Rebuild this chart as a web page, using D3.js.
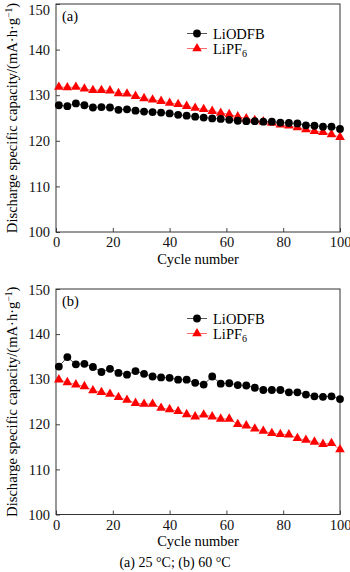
<!DOCTYPE html>
<html><head><meta charset="utf-8">
<script src="https://cdn.jsdelivr.net/npm/d3@7"></script>
<style>body{margin:0;background:#fff}svg{display:block}text{font-family:"Liberation Serif","Times New Roman",serif}</style>
</head><body><svg id="c" width="350" height="572"></svg>
<script>
const cycles = d3.range(1, 101, 3);
const yTicks = [100, 110, 120, 130, 140, 150];
const xTicks = [0, 20, 40, 60, 80, 100];
const odfbA = [127.8,127.6,128.2,127.8,127.3,127.4,127.3,126.8,126.9,126.6,126.4,126.3,126.2,126.0,125.7,125.5,125.3,125.1,124.9,124.8,124.6,124.4,124.3,124.3,124.2,124.2,124.0,123.9,123.8,123.4,123.3,123.1,123.1,122.6];
const pf6A = [131.8,131.7,131.8,131.4,131.1,131.1,131.0,130.4,130.3,129.8,129.3,129.0,128.7,128.3,128.0,127.6,127.2,126.9,126.5,126.1,125.8,125.3,124.9,124.5,124.2,123.9,123.5,123.3,122.9,122.5,122.1,121.9,121.4,120.8];
const odfbB = [132.8,134.9,133.3,133.4,132.7,131.6,132.3,131.4,131.0,131.8,131.2,130.6,130.4,130.3,129.9,129.9,129.2,128.8,130.6,129.0,129.1,128.7,128.6,128.1,127.6,127.6,127.6,127.1,127.1,126.6,126.2,126.1,126.2,125.6];
const pf6B = [129.9,129.3,128.8,128.4,127.5,127.1,126.7,126.0,125.4,124.7,124.5,124.5,123.6,123.3,122.9,122.2,121.7,122.1,121.7,121.2,121.2,120.0,119.7,119.0,118.5,118.0,117.8,117.7,116.9,116.5,116.1,115.6,115.8,114.4];
const panels = [
  {label:"(a)", top:4, bottom:232, a:odfbA, b:pf6A},
  {label:"(b)", top:289, bottom:514.5, a:odfbB, b:pf6B}
];
const svg = d3.select("#c");
const L = 56, R = 340;
const x = d3.scaleLinear().domain([0,100]).range([L,R]);
panels.forEach((p,pi) => {
  const y = d3.scaleLinear().domain([100,150]).range([p.bottom,p.top]);
  const g = svg.append("g");
  const yAx = g.append("g").attr("transform",`translate(${L},0)`)
    .call(d3.axisLeft(y).tickValues(yTicks).tickSizeInner(-4).tickSizeOuter(0).tickPadding(6));
  const xAx = g.append("g").attr("transform",`translate(0,${p.bottom})`)
    .call(d3.axisBottom(x).tickValues(xTicks).tickSizeInner(-4).tickSizeOuter(0).tickPadding(5));
  [yAx,xAx].forEach(a=>{a.select(".domain").remove();a.selectAll("line").attr("stroke","#444");
    a.selectAll("text").attr("font-size",14.5).attr("fill","#111").attr("font-family",'"Liberation Serif",serif');});
  xAx.selectAll("text").attr("dy","0.7em");
  yAx.selectAll(".tick").filter(d=>d===150).select("text").attr("dy", pi===0 ? "0.75em" : "0.38em");
  g.append("rect").attr("x",L).attr("y",p.top).attr("width",R-L).attr("height",p.bottom-p.top)
    .attr("fill","none").attr("stroke","#333").attr("stroke-width",1);
  const line = d3.line().x((d,i)=>x(cycles[i])).y(d=>y(d));
  g.append("path").datum(p.b).attr("d",line).attr("fill","none").attr("stroke","#ff6a6a").attr("stroke-width",1);
  g.append("path").datum(p.a).attr("d",line).attr("fill","none").attr("stroke","#555").attr("stroke-width",1);
  const tri = d3.symbol().type(d3.symbolTriangle).size(40);
  g.selectAll(".t").data(p.b).join("path").attr("d",tri)
    .attr("transform",(d,i)=>`translate(${x(cycles[i])},${y(d)})`).attr("fill","#ff0000");
  g.selectAll(".c").data(p.a).join("circle").attr("cx",(d,i)=>x(cycles[i])).attr("cy",d=>y(d))
    .attr("r",3.9).attr("fill","#000");
  g.append("text").attr("x",62).attr("y",p.top+17).attr("font-size",14.5).text(p.label);
  const ly1 = p.top+29.5, ly2 = p.top+44.5;
  g.append("line").attr("x1",187).attr("x2",207).attr("y1",ly1).attr("y2",ly1).attr("stroke","#555");
  g.append("circle").attr("cx",197).attr("cy",ly1).attr("r",3.9).attr("fill","#000");
  g.append("text").attr("x",213).attr("y",ly1+5).attr("font-size",14.5).text("LiODFB");
  g.append("line").attr("x1",187).attr("x2",207).attr("y1",ly2).attr("y2",ly2).attr("stroke","#ff6a6a");
  g.append("path").attr("d",tri).attr("transform",`translate(197,${ly2})`).attr("fill","#ff0000");
  const t2 = g.append("text").attr("x",213).attr("y",ly2+5).attr("font-size",14.5);
  t2.append("tspan").text("LiPF");
  t2.append("tspan").attr("font-size",10).attr("dy",3).text("6");
  const yl = g.append("text").attr("transform",`translate(17,${(p.top+p.bottom)/2}) rotate(-90)`)
    .attr("text-anchor","middle").attr("font-size",14.6);
  yl.append("tspan").text("Discharge specific capacity/(mA·h·g");
  yl.append("tspan").attr("font-size",9.5).attr("dy",-5).text("−1");
  yl.append("tspan").attr("dy",5).text(")");
  g.append("text").attr("x",198).attr("y",p.bottom+31.5).attr("text-anchor","middle").attr("font-size",14.5).text("Cycle number");
});
svg.append("text").attr("x",175).attr("y",567).attr("text-anchor","middle").attr("font-size",14).text("(a) 25 °C; (b) 60 °C");
</script></body></html>
